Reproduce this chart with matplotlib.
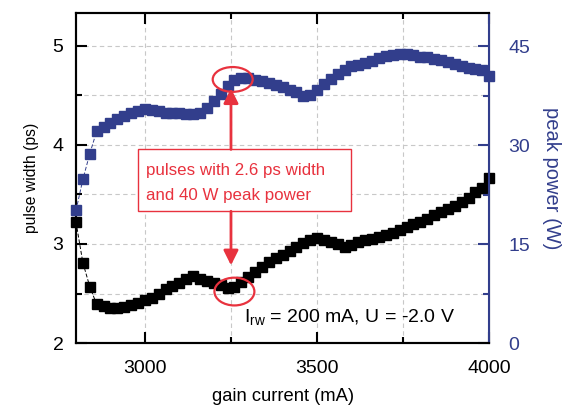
import numpy as np
import matplotlib
matplotlib.use("Agg")
import matplotlib.pyplot as plt
from matplotlib.patches import Ellipse, Rectangle

plt.rcParams['font.family'] = ['Liberation Sans', 'DejaVu Sans']

# gain current (mA), 20 mA steps
current = [2800, 2820, 2840, 2860, 2880, 2900, 2920, 2940, 2960, 2980,
           3000, 3020, 3040, 3060, 3080, 3100, 3120, 3140, 3160, 3180,
           3200, 3220, 3240, 3260, 3280, 3300, 3320, 3340, 3360, 3380,
           3400, 3420, 3440, 3460, 3480, 3500, 3520, 3540, 3560, 3580,
           3600, 3620, 3640, 3660, 3680, 3700, 3720, 3740, 3760, 3780,
           3800, 3820, 3840, 3860, 3880, 3900, 3920, 3940, 3960, 3980,
           4000]

# pulse width (ps)
width = [3.22, 2.81, 2.57, 2.39, 2.37, 2.35, 2.35, 2.36, 2.38, 2.40,
         2.43, 2.46, 2.50, 2.55, 2.58, 2.61, 2.65, 2.68, 2.65, 2.63,
         2.61, 2.59, 2.56, 2.57, 2.62, 2.67, 2.72, 2.77, 2.82, 2.86,
         2.89, 2.93, 2.97, 3.01, 3.04, 3.06, 3.04, 3.02, 3.00, 2.97,
         2.99, 3.02, 3.04, 3.05, 3.07, 3.09, 3.11, 3.14, 3.17, 3.20,
         3.22, 3.25, 3.29, 3.32, 3.35, 3.38, 3.42, 3.46, 3.52, 3.56,
         3.67]

# peak power (W)
power = [20.1, 24.8, 28.7, 32.1, 32.7, 33.4, 33.9, 34.4, 34.9, 35.2,
         35.4, 35.3, 35.1, 34.9, 34.8, 34.8, 34.7, 34.7, 34.9, 35.6,
         36.7, 37.8, 39.0, 39.9, 40.1, 40.1, 39.9, 39.7, 39.4, 39.1,
         38.8, 38.4, 38.0, 37.4, 37.6, 38.4, 39.2, 40.0, 40.8, 41.4,
         41.9, 42.2, 42.5, 42.8, 43.2, 43.5, 43.7, 43.8, 43.8, 43.6,
         43.4, 43.3, 43.1, 42.9, 42.6, 42.3, 42.0, 41.6, 41.5, 41.3,
         40.5]

navy = '#323e8c'
red = '#e8323e'

fig = plt.figure(figsize=(5.63, 4.07), dpi=100)
ax = fig.add_axes([0.135, 0.157, 0.734, 0.811])
ax2 = ax.twinx()

ax.plot(current, width, marker='s', ms=7, color='black', ls='--', lw=0.7,
        dashes=(4, 2), clip_on=False, zorder=3)
ax2.plot(current, power, marker='s', ms=7, color=navy, ls='--', lw=0.7,
         dashes=(4, 2), clip_on=False, zorder=3)

ax.set_xlim(2800, 4000)
ax.set_ylim(2, 5.33)
ax2.set_ylim(0, 50)

ax.set_xticks([3000, 3500, 4000])
ax.set_xticks([3250, 3750], minor=True)
ax.set_yticks([2, 3, 4, 5])
ax.set_yticks([2.5, 3.5, 4.5], minor=True)
ax2.set_yticks([0, 15, 30, 45])
ax2.set_yticks([7.5, 22.5, 37.5], minor=True)

ax.grid(True, which='both', ls=(0, (4, 3)), color='#c8c8c8', lw=0.8)

ax.tick_params(which='both', direction='in', top=True, width=1.5, labelsize=14)
ax.tick_params(which='major', length=8)
ax.tick_params(which='minor', length=4)
ax.tick_params(axis='x', pad=12)
ax.tick_params(axis='y', pad=9)
ax2.tick_params(which='both', direction='in', width=1.5, colors=navy, labelsize=14, pad=14)
ax2.tick_params(which='major', length=8)
ax2.tick_params(which='minor', length=4)

for s in ['left', 'bottom', 'top']:
    ax.spines[s].set_linewidth(1.5)
    ax2.spines[s].set_linewidth(1.5)
ax2.spines['right'].set_color(navy)
ax2.spines['right'].set_linewidth(1.5)

ax.set_xlabel('gain current (mA)', fontsize=13.2, labelpad=8)
ax.set_ylabel('pulse width (ps)', fontsize=11.3, labelpad=10)
ax2.set_ylabel('peak power (W)', fontsize=14.5, color=navy, rotation=270, labelpad=22)

# annotation box and arrows (in pulse-width coordinates)
t = ax.transData
box = Rectangle((2980, 3.33), 619, 0.624, transform=t, facecolor='white',
                edgecolor=red, lw=1.0, zorder=4)
ax2.add_patch(box)
ax2.text(3003, 3.74, 'pulses with 2.6 ps width', transform=t, color=red,
         fontsize=12.2, va='center', zorder=5)
ax2.text(3003, 3.49, 'and 40 W peak power', transform=t, color=red,
         fontsize=12.2, va='center', zorder=5)

arrow = dict(arrowstyle='-|>', color=red, lw=2, mutation_scale=22, shrinkA=0, shrinkB=0)
ax2.annotate('', xy=(3250, 4.57), xytext=(3250, 3.954), xycoords=t, textcoords=t,
             arrowprops=arrow, zorder=5)
ax2.annotate('', xy=(3250, 2.785), xytext=(3250, 3.33), xycoords=t, textcoords=t,
             arrowprops=arrow, zorder=5)

for cx, cy, h in [(3255, 4.66, 0.25), (3260, 2.52, 0.28)]:
    ax2.add_patch(Ellipse((cx, cy), 116, h, transform=t, fill=False,
                          edgecolor=red, lw=1.6, zorder=5))

ax2.text(3288, 2.25, r'I$_\mathregular{rw}$ = 200 mA, U = -2.0 V', transform=t,
         fontsize=14, va='center', zorder=5)

fig.savefig('out.png', dpi=100)
